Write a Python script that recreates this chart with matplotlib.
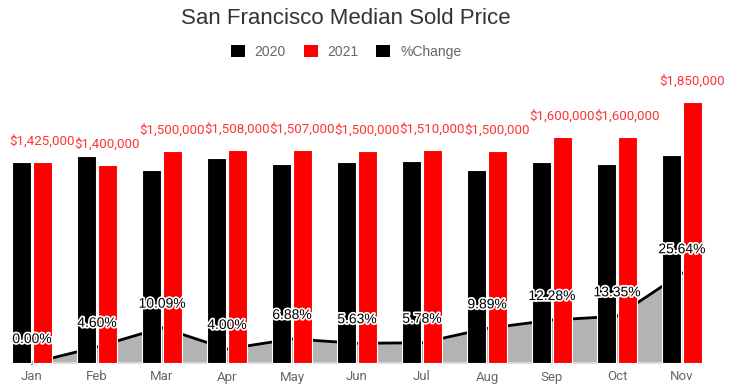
import matplotlib
matplotlib.use("Agg")
import matplotlib.pyplot as plt
import matplotlib.patheffects as pe
from matplotlib.patches import Patch
import numpy as np

plt.rcParams['font.family'] = ['Roboto', 'DejaVu Sans']

months = ["Jan", "Feb", "Mar", "Apr", "May", "Jun", "Jul", "Aug", "Sep", "Oct", "Nov"]
price_2020 = [1425000, 1467500, 1362500, 1450000, 1410000, 1420000, 1427500, 1365000, 1425000, 1411500, 1472500]
price_2021 = [1425000, 1400000, 1500000, 1508000, 1507000, 1500000, 1510000, 1500000, 1600000, 1600000, 1850000]
pct_change = [0.00, 4.60, 10.09, 4.00, 6.88, 5.63, 5.78, 9.89, 12.28, 13.35, 25.64]

W, H = 730, 392
fig = plt.figure(figsize=(W / 100, H / 100), dpi=100)
ax = fig.add_axes([0, 0, 1, 1])
ax2 = ax.twinx()

x0_px, step_px, base_px = 32, 65, 29
px_per_m = 141.3
px_per_pct = 3.5
ax.set_xlim(-x0_px / step_px, (W - x0_px) / step_px)
ax.set_ylim(-base_px / px_per_m * 1e6, (H - base_px) / px_per_m * 1e6)
ax2.set_ylim(-base_px / px_per_pct, (H - base_px) / px_per_pct)

x = np.arange(len(months))
bw, off = 0.29, 0.16

ax.set_zorder(2)
ax.patch.set_visible(False)
ax2.set_zorder(1)

ax2.fill_between(x, 0, pct_change, color="#b3b3b3", lw=0, zorder=1)
ax2.plot(x, pct_change, color="black", lw=2, zorder=2)

ax.bar(x - off, price_2020, bw, color="black", edgecolor="white", linewidth=0.8, zorder=3)
ax.bar(x + off, price_2021, bw, color="#ff0000", edgecolor="white", linewidth=0.8, zorder=3)
ax.plot([x[0] - off - bw / 2, x[-1] + off + bw / 2], [0, 0], color="#e0e0e0", lw=1.2, zorder=2.5)

for xi, v in zip(x, price_2021):
    ax.annotate(f"${v:,.0f}", (xi + off, v), xytext=(0, 15), textcoords="offset points",
                ha="center", va="center", color="#ff3333", fontsize=9.6, zorder=5)

for xi, p in zip(x, pct_change):
    ypix = p * px_per_pct + 24
    ax.text(xi, ypix / px_per_m * 1e6, f"{p:.2f}%",
            ha="center", va="center", color="black", fontsize=10, zorder=6,
            family=["Liberation Sans", "DejaVu Sans"],
            path_effects=[pe.withStroke(linewidth=2.5, foreground="white")])

for xi, m in zip(x, months):
    fig.text((x0_px + xi * step_px) / W, 1 - 377 / H, m, ha="center", va="center",
             color="#666666", fontsize=9.5)

ax.axis("off")
ax2.axis("off")

fig.text(346 / W, 1 - 19 / H, "San Francisco Median Sold Price", ha="center", va="center",
         color="#333333", fontsize=16, family=["Liberation Sans", "DejaVu Sans"])

handles = [Patch(facecolor="black", edgecolor="none"),
           Patch(facecolor="#ff0000", edgecolor="none"),
           Patch(facecolor="black", edgecolor="none")]
fig.legend(handles, ["2020", "2021", "%Change"], loc="center", bbox_to_anchor=(346 / W, 1 - 52 / H),
           ncol=3, frameon=False, handlelength=1.0, handleheight=1.0,
           handletextpad=0.7, columnspacing=1.3, labelcolor="#666666",
           prop={"family": ["Liberation Sans", "DejaVu Sans"], "size": 10})

fig.savefig("out.png", dpi=100)
